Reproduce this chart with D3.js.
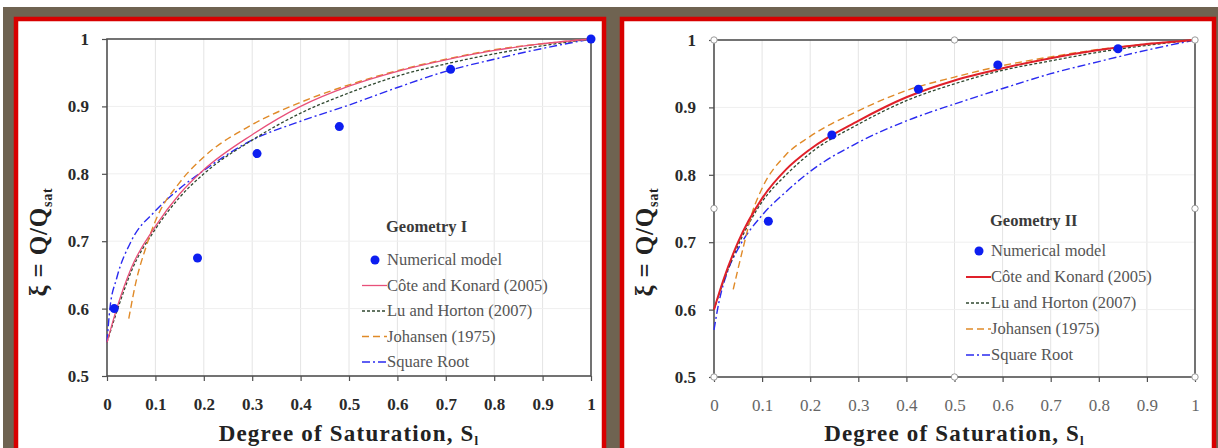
<!DOCTYPE html>
<html><head><meta charset="utf-8">
<script src="https://cdn.jsdelivr.net/npm/d3@7"></script>
<style>body{margin:0;background:#fff}svg{display:block}</style>
</head><body>
<svg id="c" width="1218" height="448"></svg>
<script>
// ---- data ----
const xTicks = [0,0.1,0.2,0.3,0.4,0.5,0.6,0.7,0.8,0.9,1];
const yTicks = [0.5,0.6,0.7,0.8,0.9,1];
const xTickLabels = ["0","0.1","0.2","0.3","0.4","0.5","0.6","0.7","0.8","0.9","1"];
const yTickLabels = ["0.5","0.6","0.7","0.8","0.9","1"];
const legendLabels = ["Numerical model","Côte and Konard (2005)","Lu and Horton (2007)","Johansen (1975)","Square Root"];
const panelTitles = ["Geometry I","Geometry II"];

// Geometry I
const g1NumS  = [0.015,0.187,0.31,0.48,0.71,1.0];
const g1NumXi = [0.60,0.675,0.83,0.87,0.955,1.0];
const g1CoteS  = [0,0.02,0.05,0.1,0.15,0.2,0.3,0.4,0.5,0.6,0.7,0.8,0.9,1];
const g1CoteXi = [0.55,0.60,0.66,0.722,0.77,0.806,0.858,0.900,0.930,0.952,0.969,0.983,0.993,1];
const g1LuS  = [0,0.02,0.05,0.1,0.15,0.2,0.3,0.4,0.5,0.6,0.7,0.8,0.9,1];
const g1LuXi = [0.55,0.595,0.655,0.718,0.765,0.80,0.85,0.89,0.92,0.945,0.963,0.978,0.99,1];
const g1JoS  = [0.045,0.06,0.08,0.1,0.15,0.2,0.3,0.4,0.5,0.6,0.7,0.8,0.9,1];
const g1JoXi = [0.585,0.64,0.69,0.73,0.787,0.825,0.873,0.906,0.932,0.953,0.97,0.984,0.993,1];
const g1SqS  = [0,0.006,0.02,0.05,0.1,0.15,0.2,0.3,0.4,0.5,0.6,0.7,0.8,0.9,1];
const g1SqXi = [0.55,0.60,0.645,0.70,0.745,0.778,0.805,0.85,0.878,0.902,0.928,0.952,0.970,0.986,1];

// Geometry II
const g2NumS  = [0.113,0.245,0.425,0.59,0.84];
const g2NumXi = [0.731,0.859,0.927,0.963,0.987];
const g2CoteS  = [0,0.02,0.05,0.1,0.15,0.2,0.3,0.4,0.5,0.6,0.7,0.8,0.9,1];
const g2CoteXi = [0.60,0.645,0.70,0.765,0.808,0.838,0.88,0.915,0.94,0.958,0.973,0.985,0.994,1];
const g2LuS  = [0,0.02,0.05,0.1,0.15,0.2,0.3,0.4,0.5,0.6,0.7,0.8,0.9,1];
const g2LuXi = [0.60,0.642,0.695,0.76,0.80,0.832,0.875,0.91,0.935,0.955,0.969,0.982,0.992,1];
const g2JoS  = [0.04,0.06,0.08,0.1,0.15,0.2,0.3,0.4,0.5,0.6,0.7,0.8,0.9,1];
const g2JoXi = [0.63,0.69,0.745,0.78,0.83,0.857,0.895,0.925,0.945,0.962,0.975,0.986,0.994,1];
const g2SqS  = [0,0.01,0.03,0.05,0.1,0.15,0.2,0.3,0.4,0.5,0.6,0.7,0.8,0.9,1];
const g2SqXi = [0.57,0.61,0.66,0.69,0.74,0.775,0.805,0.848,0.88,0.905,0.928,0.95,0.968,0.985,1];

// ---- drawing ----
const svg = d3.select("#c");
const FONT = "'Liberation Serif','DejaVu Serif',serif";

svg.append("rect").attr("x",3).attr("y",7).attr("width",1215).attr("height",441).attr("fill","#6f6351");

function zip(a,b){return a.map((v,i)=>[v,b[i]]);}

const panels = [
  {frame:[16,19,588,440], plot:[107,39,591,376], title:panelTitles[0], legX:362, legTitleY:232, legY0:260, legDy:25.5,
   num:zip(g1NumS,g1NumXi), cote:zip(g1CoteS,g1CoteXi), lu:zip(g1LuS,g1LuXi), jo:zip(g1JoS,g1JoXi), sq:zip(g1SqS,g1SqXi),
   coteColor:"#e8507a", coteW:1.3, handles:false, xBold:true},
  {frame:[622,19,592,440], plot:[714,40,1195,377], title:panelTitles[1], legX:966, legTitleY:226, legY0:251, legDy:26,
   num:zip(g2NumS,g2NumXi), cote:zip(g2CoteS,g2CoteXi), lu:zip(g2LuS,g2LuXi), jo:zip(g2JoS,g2JoXi), sq:zip(g2SqS,g2SqXi),
   coteColor:"#e0202a", coteW:2, handles:true, xBold:false}
];

panels.forEach(p=>{
  const [fx,fy,fw,fh]=p.frame;
  svg.append("rect").attr("x",fx).attr("y",fy).attr("width",fw).attr("height",fh)
    .attr("fill","#fff").attr("stroke","#d80000").attr("stroke-width",4.5);
  const [x0,y0,x1,y1]=p.plot;
  const x=d3.scaleLinear().domain([0,1]).range([x0,x1]);
  const y=d3.scaleLinear().domain([0.5,1]).range([y1,y0]);
  const g=svg.append("g");
  // grid
  g.append("g").selectAll("line").data(xTicks.slice(1,-1)).join("line")
    .attr("x1",d=>x(d)).attr("x2",d=>x(d)).attr("y1",y0).attr("y2",y1)
    .attr("stroke","#e4e4e4").attr("stroke-width",1);
  g.append("g").selectAll("line").data(yTicks.slice(1,-1)).join("line")
    .attr("x1",x0).attr("x2",x1).attr("y1",d=>y(d)).attr("y2",d=>y(d))
    .attr("stroke","#efefef").attr("stroke-width",1);
  // frame
  g.append("rect").attr("x",x0).attr("y",y0).attr("width",x1-x0).attr("height",y1-y0)
    .attr("fill","none").attr("stroke","#505050").attr("stroke-width",1.6);
  // axes
  const xa=g.append("g").attr("transform",`translate(0,${y1})`)
    .call(d3.axisBottom(x).tickValues(xTicks).tickFormat((d,i)=>xTickLabels[i]).tickSize(5).tickPadding(17));
  const ya=g.append("g").attr("transform",`translate(${x0},0)`)
    .call(d3.axisLeft(y).tickValues(yTicks).tickFormat((d,i)=>yTickLabels[i]).tickSize(5).tickPadding(13));
  [xa,ya].forEach(a=>{
    a.select(".domain").remove();
    a.selectAll("line").attr("stroke","#505050").attr("stroke-width",1.2);
    a.selectAll("text").attr("font-family",FONT).attr("font-weight","bold").attr("font-size",17).attr("fill","#2a2a2a");
  });
  if(!p.xBold) xa.selectAll("text").attr("font-weight","normal").attr("fill","#666");
  // curves
  const line=d3.line().x(d=>x(d[0])).y(d=>y(d[1])).curve(d3.curveMonotoneX);
  const series=[
    {d:p.sq, c:"#2a2af0", w:1.4, dash:"8,3,2,3"},
    {d:p.lu, c:"#304830", w:1.3, dash:"3,2"},
    {d:p.jo, c:"#e08a28", w:1.4, dash:"7,4"},
    {d:p.cote, c:p.coteColor, w:p.coteW, dash:null}
  ];
  series.forEach(s=>{
    g.append("path").datum(s.d).attr("d",line).attr("fill","none")
      .attr("stroke",s.c).attr("stroke-width",s.w).attr("stroke-dasharray",s.dash);
  });
  g.append("g").selectAll("circle").data(p.num).join("circle")
    .attr("cx",d=>x(d[0])).attr("cy",d=>y(d[1])).attr("r",4.5).attr("fill","#0d1ef0");
  // handles
  if(p.handles){
    const hs=[[0,1],[0.5,1],[1,1],[0,0.75],[1,0.75],[0,0.5],[0.5,0.5],[1,0.5]];
    g.append("g").selectAll("circle").data(hs).join("circle")
      .attr("cx",d=>x(d[0])).attr("cy",d=>y(d[1])).attr("r",3.2)
      .attr("fill","#fff").attr("stroke","#9a9a9a").attr("stroke-width",1);
  }
  // legend
  const lg=g.append("g");
  lg.append("text").attr("x",p.legX+24).attr("y",p.legTitleY).text(p.title)
    .attr("font-family",FONT).attr("font-weight","bold").attr("font-size",16.5).attr("fill","#3a3a3a");
  const legSeries=[null,series[3],series[1],series[2],series[0]];
  legendLabels.forEach((lab,i)=>{
    const ly=p.legY0+i*p.legDy;
    if(i===0){
      lg.append("circle").attr("cx",p.legX+13).attr("cy",ly).attr("r",4.5).attr("fill","#0d1ef0");
    } else {
      const s=legSeries[i];
      lg.append("line").attr("x1",p.legX).attr("x2",p.legX+25).attr("y1",ly).attr("y2",ly)
        .attr("stroke",s.c).attr("stroke-width",s.w).attr("stroke-dasharray",s.dash);
    }
    lg.append("text").attr("x",p.legX+25).attr("y",ly+5).text(lab)
      .attr("font-family",FONT).attr("font-size",16.5).attr("fill","#555");
  });
  // axis titles
  const xt=g.append("text").attr("x",(x0+x1)/2).attr("y",441).attr("text-anchor","middle")
    .attr("font-family",FONT).attr("font-weight","bold").attr("font-size",23)
    .attr("letter-spacing",1.2).attr("fill","#222");
  xt.append("tspan").text("Degree of Saturation, S");
  xt.append("tspan").text("l").attr("font-size",13).attr("dy",4);
  const yt=g.append("text").attr("transform",`translate(${fx+31},242) rotate(-90)`)
    .attr("text-anchor","middle")
    .attr("font-family",FONT).attr("font-weight","bold").attr("font-size",25)
    .attr("letter-spacing",0.8).attr("fill","#222");
  yt.append("tspan").text("ξ = Q/Q");
  yt.append("tspan").text("sat").attr("font-size",14).attr("dy",5);
});
</script>
</body></html>
